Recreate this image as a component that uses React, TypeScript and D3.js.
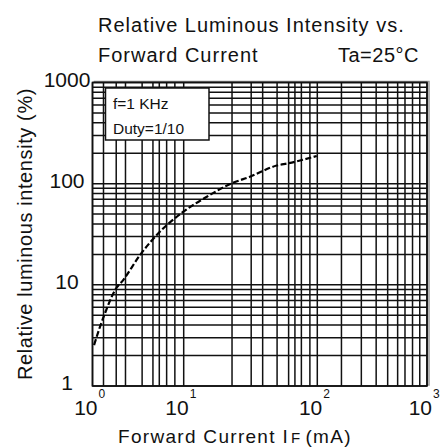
import React, { useEffect, useRef } from 'react';
import * as d3 from 'd3';

// curve
const forwardCurrent = [1.04, 1.21, 1.37, 1.77, 2.18, 3.32, 5.06, 9.9, 14.9, 22.9, 31.3, 49.7, 60.7, 99];
const relIntensity = [2.54, 3.86, 5.23, 8.89, 11.2, 19.7, 31.1, 52.8, 74.3, 100.8, 117, 151, 159, 187.6];

// axis ticks
const xDecades = [1, 10, 100, 1000];
const xExponents = ['0', '1', '2', '3'];
const yDecades = [1, 10, 100, 1000];
const yTickLabels = ['1', '10', '100', '1000'];

// vertical grid lines as drawn in the original (uneven hand-made grid)
const xMinorGrid = [
  1.32, 1.82, 2.3, 3.5, 4.6, 5.4, 6.5, 8.0,
  23, 32, 39, 50, 61, 68, 76, 88,
  166, 252, 344, 438, 540, 630, 738, 859,
];

const legendLines = ['f=1 KHz', 'Duty=1/10'];
const titleLines = ['Relative Luminous Intensity vs.', 'Forward Current'];

const FONT = '"Liberation Sans", Arial, sans-serif';

const IntensityChart: React.FC = () => {
  const svgRef = useRef<SVGSVGElement>(null);

  useEffect(() => {
    if (!svgRef.current) return;
    const svg = d3.select(svgRef.current);
    svg.selectAll('*').remove();

    const left = 92.5, right = 427, top = 82.5, bottom = 386;

    const x = d3.scaleLog()
      .domain(xDecades)
      .range([left, 183.7, 317.3, right]);

    const y = d3.scaleLog()
      .domain([1, 1000])
      .range([bottom, top]);

    const yGrid: number[] = [];
    for (let k = 0; k < 3; k++) {
      for (let m = 2; m <= 9; m++) yGrid.push(m * Math.pow(10, k));
    }

    const g = svg.append('g');

    // shadow
    g.append('rect')
      .attr('x', left + 2).attr('y', top - 1)
      .attr('width', right - left).attr('height', bottom - top)
      .attr('fill', 'none')
      .attr('stroke', '#999')
      .attr('stroke-width', 1.5);

    g.append('rect')
      .attr('x', left).attr('y', top)
      .attr('width', right - left).attr('height', bottom - top)
      .attr('fill', '#fff');

    // grid
    g.selectAll('line.hgrid')
      .data(yGrid.concat(yDecades))
      .join('line')
      .attr('x1', left).attr('x2', right)
      .attr('y1', d => y(d)).attr('y2', d => y(d))
      .attr('stroke', '#111')
      .attr('stroke-width', 1.5);

    g.selectAll('line.vgrid')
      .data(xMinorGrid.concat(xDecades))
      .join('line')
      .attr('x1', d => x(d)).attr('x2', d => x(d))
      .attr('y1', top).attr('y2', bottom)
      .attr('stroke', '#111')
      .attr('stroke-width', 1.5);

    g.append('rect')
      .attr('x', left).attr('y', top)
      .attr('width', right - left).attr('height', bottom - top)
      .attr('fill', 'none')
      .attr('stroke', '#111')
      .attr('stroke-width', 1.6);

    // legend box
    g.append('rect')
      .attr('x', 105.5).attr('y', 88)
      .attr('width', 103.5).attr('height', 52)
      .attr('fill', '#fff')
      .attr('stroke', '#111')
      .attr('stroke-width', 1.5);

    g.selectAll('text.legend')
      .data(legendLines)
      .join('text')
      .attr('x', 113)
      .attr('y', (_, i) => 109 + i * 25)
      .attr('font-family', FONT)
      .attr('font-size', 15.5)
      .attr('fill', '#111')
      .text(d => d);

    // curve
    const pts = forwardCurrent.map((c, i) => [c, relIntensity[i]] as [number, number]);
    const line = d3.line<[number, number]>()
      .x(d => x(d[0]))
      .y(d => y(d[1]))
      .curve(d3.curveMonotoneX);

    g.append('path')
      .datum(pts)
      .attr('fill', 'none')
      .attr('stroke', '#000')
      .attr('stroke-width', 2.2)
      .attr('stroke-dasharray', '6 2.5')
      .attr('d', line);

    // y tick labels
    g.selectAll('text.ytick')
      .data(yDecades)
      .join('text')
      .attr('x', 67)
      .attr('y', d => y(d) + 4)
      .attr('text-anchor', 'middle')
      .attr('font-family', FONT)
      .attr('font-size', 21)
      .attr('fill', '#111')
      .text((_, i) => yTickLabels[i]);

    // x tick labels, 10 with superscript exponent
    const xt = g.selectAll('g.xtick')
      .data(xDecades)
      .join('g')
      .attr('transform', d => `translate(${x(d)},0)`);

    xt.append('text')
      .attr('x', 5)
      .attr('y', 415)
      .attr('text-anchor', 'end')
      .attr('font-family', FONT)
      .attr('font-size', 21)
      .attr('fill', '#111')
      .text('10');

    xt.append('text')
      .attr('x', 6)
      .attr('y', 398)
      .attr('font-family', FONT)
      .attr('font-size', 12)
      .attr('fill', '#111')
      .text((_, i) => xExponents[i]);

    // titles
    svg.selectAll('text.title')
      .data(titleLines)
      .join('text')
      .attr('x', 98)
      .attr('y', (_, i) => 31.5 + i * 30)
      .attr('font-family', FONT)
      .attr('font-size', 20)
      .attr('letter-spacing', 1)
      .attr('fill', '#111')
      .text(d => d);

    svg.append('text')
      .attr('x', 338)
      .attr('y', 61.5)
      .attr('font-family', FONT)
      .attr('font-size', 20)
      .attr('letter-spacing', 0.5)
      .attr('fill', '#111')
      .text('Ta=25°C');

    const xt2 = svg.append('text')
      .attr('x', 118)
      .attr('y', 443)
      .attr('font-family', FONT)
      .attr('font-size', 19)
      .attr('letter-spacing', 1.3)
      .attr('fill', '#111');
    xt2.append('tspan').text('Forward Current  I');
    xt2.append('tspan').attr('font-size', 15).attr('dx', 2).text('F');
    xt2.append('tspan').attr('dx', 4).text('(mA)');

    svg.append('text')
      .attr('transform', 'translate(32,234) rotate(-90)')
      .attr('text-anchor', 'middle')
      .attr('font-family', FONT)
      .attr('font-size', 20)
      .attr('letter-spacing', 0.6)
      .attr('fill', '#111')
      .text('Relative luminous intensity (%)');
  }, []);

  return (
    <svg
      ref={svgRef}
      width={440}
      height={448}
      style={{ position: 'absolute', left: 0, top: 0, background: '#fff' }}
    />
  );
};

export default function App() {
  return <IntensityChart />;
}
